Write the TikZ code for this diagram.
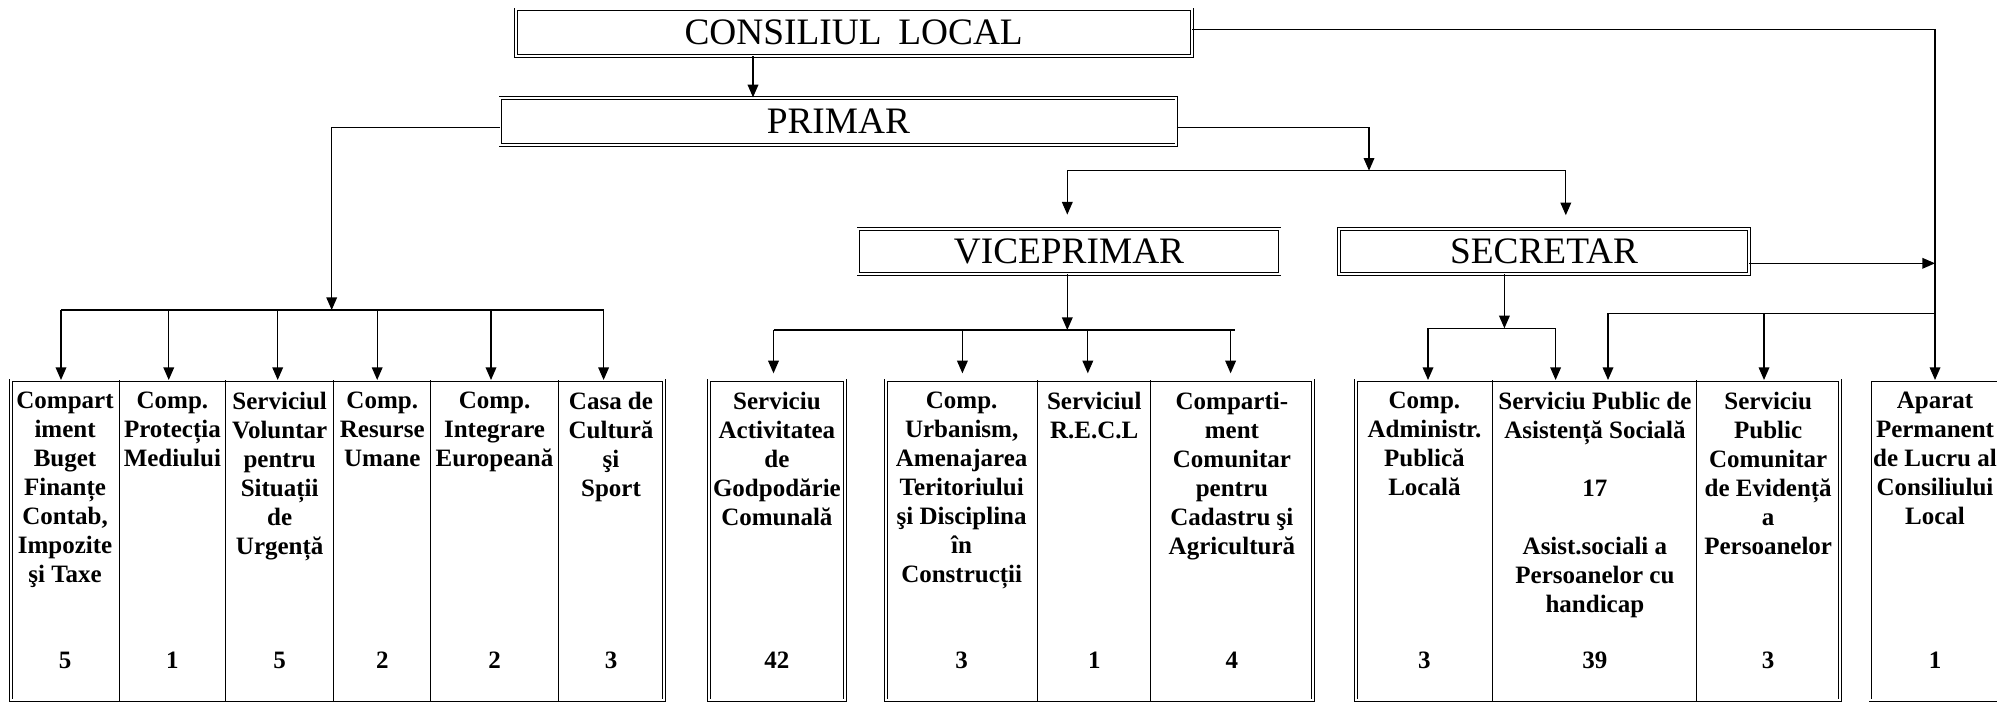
\documentclass[tikz,border=0pt]{standalone}
\usepackage{fontspec}
\setmainfont{Liberation Serif}
\usetikzlibrary{arrows.meta,calc}
\begin{document}
\begin{tikzpicture}[x=0.75pt,y=-0.75pt,
  dbl/.style={draw=black, line width=0.6pt, double=white, double distance=1.6pt},
  head/.style={dbl, inner sep=0pt, font=\fontsize{28}{32}\selectfont},
  grp/.style={dbl, inner sep=0pt, anchor=north west, minimum height=240pt},
  lbl/.style={anchor=north, align=center, inner sep=0pt, font=\bfseries\fontsize{18.75}{21.75}\selectfont},
  num/.style={anchor=base, inner sep=0pt, font=\bfseries\fontsize{18.75}{21.75}\selectfont},
  conn/.style={line width=1pt},
  arr/.style={conn, -{Triangle[length=9.5pt,width=8pt]}},
  div/.style={line width=0.8pt}]
\useasboundingbox (0,0) rectangle (1997,704);
\clip (0,0) rectangle (1997,704);
\fill[white] (0,0) rectangle (1997,704);

% header boxes
\node[head, minimum width=507pt, minimum height=35pt] (cl) at (853.7,32.7) {CONSILIUL\hspace{0.45em}LOCAL};
\node[head, minimum width=507pt, minimum height=35.5pt] (pr) at (838.4,121.4) {PRIMAR};
\node[head, minimum width=315.9pt, minimum height=33.75pt] (vp) at (1069,251.5) {VICEPRIMAR};
\node[head, minimum width=307.4pt, minimum height=33.75pt] (sec) at (1544,251.5) {SECRETAR};

% group boxes
\node[grp, minimum width=489.5pt] (g1) at (10.8,380) {};
\node[grp, minimum width=102pt] (g2) at (708.9,380) {};
\node[grp, minimum width=320.4pt] (g3) at (885.7,380) {};
\node[grp, minimum width=362.6pt] (g4) at (1355.9,380) {};
\node[grp, minimum width=105pt] (g5) at (1870,380) {};

% column dividers
\foreach \g/\x in {g1/119.3,g1/225.5,g1/333.9,g1/430.6,g1/558.5,g3/1037.6,g3/1150.9,g4/1492.9,g4/1696.9}{
  \coordinate (d) at (\x,0);
  \draw[div] (\g.north -| d) -- (\g.south -| d);
}

% labels
\node[lbl] (t11) at (65.05,391.5) {Compart\\iment\\Buget\\Finanțe\\Contab,\\Impozite\\şi Taxe};
\node[lbl] (t12) at (172.4,391.5) {Comp.\\Protecția\\Mediului};
\node[lbl] (t13) at (279.7,391.5) {Serviciul\\Voluntar\\pentru\\Situații\\de\\Urgență};
\node[lbl] (t14) at (382.25,391.5) {Comp.\\Resurse\\Umane};
\node[lbl] (t15) at (494.55,391.5) {Comp.\\Integrare\\Europeană};
\node[lbl] (t16) at (611,391.5) {Casa de\\Cultură\\şi\\Sport};
\node[lbl] (t21) at (776.9,391.5) {Serviciu\\Activitatea\\de\\Godpodărie\\Comunală};
\node[lbl] (t31) at (961.65,391.5) {Comp.\\Urbanism,\\Amenajarea\\Teritoriului\\şi Disciplina\\în\\Construcții};
\node[lbl] (t32) at (1094.25,391.5) {Serviciul\\R.E.C.L};
\node[lbl] (t33) at (1231.9,391.5) {Comparti-\\ment\\Comunitar\\pentru\\Cadastru şi\\Agricultură};
\node[lbl] (t41) at (1424.4,391.5) {Comp.\\Administr.\\Publică\\Locală};
\node[lbl] (t42) at (1594.9,391.5) {Serviciu Public de\\Asistență Socială\\[\baselineskip]17\\[\baselineskip]Asist.sociali a\\Persoanelor cu\\handicap};
\node[lbl] (t43) at (1768.15,391.5) {Serviciu\\Public\\Comunitar\\de Evidență\\a\\Persoanelor};
\node[lbl] (t51) at (1935,391.5) {Aparat\\Permanent\\de Lucru al\\Consiliului\\Local};

% numbers
\foreach \x/\n in {65.05/5,172.4/1,279.7/5,382.25/2,494.55/2,611/3,776.9/42,961.65/3,1094.25/1,1231.9/4,1424.4/3,1594.9/39,1768.15/3,1935/1}{
  \node[num] at (\x,668) {\n};
}

% connectors
\coordinate (vx) at (1935,0);
\coordinate (cle) at ([yshift=2.5pt]cl.east);
\draw[arr] (cle) -| (g5.north -| vx);

\coordinate (a1) at (753,0);
\draw[arr] (cl.south -| a1) -- (pr.north -| a1);

% primar left branch
\coordinate (pl) at ([yshift=-4.5pt]pr.west);
\coordinate (b1) at (331.7,310);
\draw[arr] (pl) -| (b1);
\coordinate (b1L) at (61,310);
\coordinate (b1R) at (603.6,310);
\draw[conn] (b1L) -- (b1R);
\foreach \x in {61,168.75,277.7,377.2,491,603.6}{
  \coordinate (t) at (\x,310);
  \draw[arr] (t) -- (g1.north -| t);
}

% primar right branch
\coordinate (prr) at ([yshift=-4.5pt]pr.east);
\coordinate (b2) at (1369,170.7);
\draw[arr] (prr) -| (b2);
\coordinate (b2L) at (1067.3,170.7);
\coordinate (b2R) at (1565.8,170.7);
\draw[conn] (b2L) -- (b2R);
\draw[arr, shorten >=10.5pt] (b2L) -- (vp.north -| b2L);
\draw[arr, shorten >=10pt] (b2R) -- (sec.north -| b2R);

% viceprimar branch
\coordinate (b3) at (1067.3,330);
\draw[arr] (vp.south -| b3) -- (b3);
\coordinate (b3L) at (773.5,330);
\coordinate (b3R) at (1234.7,330);
\draw[conn] (b3L) -- (b3R);
\draw[arr, shorten >=5pt] (b3L) -- (g2.north -| b3L);
\foreach \x in {962.4,1087.8,1230.6}{
  \coordinate (t) at (\x,330);
  \draw[arr, shorten >=5pt] (t) -- (g3.north -| t);
}

% secretar branch
\coordinate (s2) at (1504.4,328.3);
\draw[arr] (sec.south -| s2) -- (s2);
\coordinate (b4L) at (1428,328.3);
\coordinate (b4R) at (1555.6,328.3);
\draw[conn] (b4L) -- (b4R);
\draw[arr] (b4L) -- (g4.north -| b4L);
\draw[arr] (b4R) -- (g4.north -| b4R);

\coordinate (se) at ([yshift=-8.85pt]sec.east);
\draw[arr] (se) -- (se -| vx);

\coordinate (b5L) at (1608,313.3);
\coordinate (b5M) at (1764,313.3);
\draw[conn] (b5L) -- (b5L -| vx);
\draw[arr] (b5L) -- (g4.north -| b5L);
\draw[arr] (b5M) -- (g4.north -| b5M);
\end{tikzpicture}
\end{document}
